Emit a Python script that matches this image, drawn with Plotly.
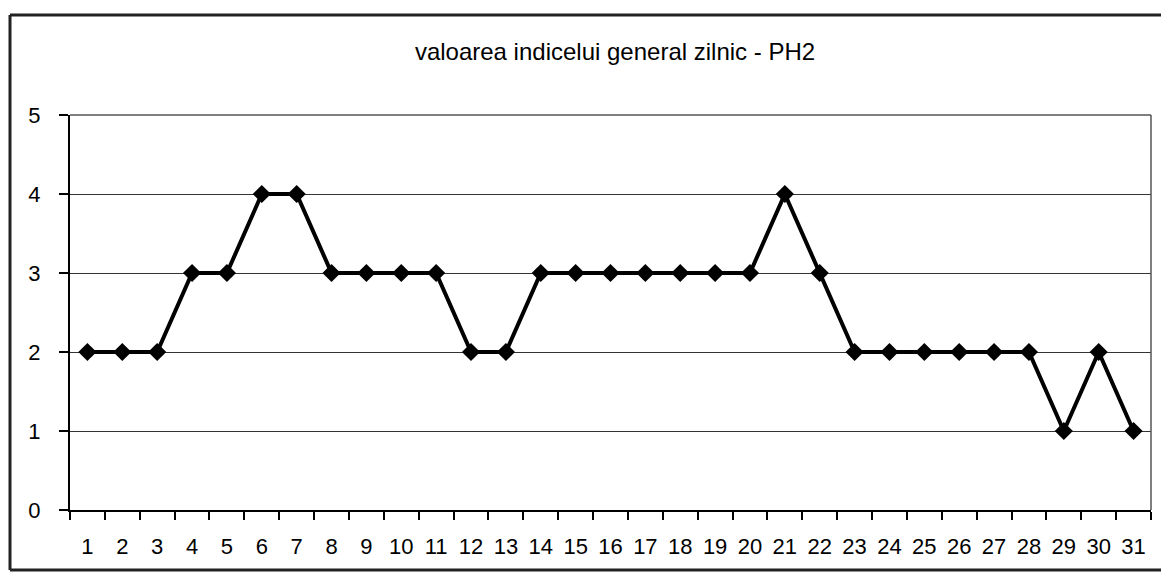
import plotly.graph_objects as go

days = [str(d) for d in range(1, 32)]
values = [2, 2, 2, 3, 3, 4, 4, 3, 3, 3, 3, 2, 2, 3, 3, 3, 3, 3, 3, 3, 4, 3, 2, 2, 2, 2, 2, 2, 1, 2, 1]
title_text = "valoarea indicelui general zilnic - PH2"

# page body has an 8px margin; work in screen pixels and convert
OFF = 8
W, H = 1169 - OFF, 576 - OFF
L, R, T, B = 70, 1151, 115, 510  # plot area in screen pixels
pw, ph = R - L, B - T

fig = go.Figure()
fig.add_trace(go.Scatter(
    x=days, y=values, mode="lines+markers",
    line=dict(color="black", width=4),
    marker=dict(symbol="diamond", size=14, color="black"),
    showlegend=False,
))

def px_x(p):
    return (p - L) / pw

def px_y(p):
    return (B - p) / ph

border = dict(color="#222", width=3)
shapes = [
    # outer chart border: left, top, bottom (right edge lies outside the picture)
    dict(type="line", xref="paper", yref="paper",
         x0=px_x(10), x1=px_x(10), y0=px_y(570), y1=px_y(15), line=border),
    dict(type="line", xref="paper", yref="paper",
         x0=px_x(10), x1=px_x(1200), y0=px_y(15), y1=px_y(15), line=border),
    dict(type="line", xref="paper", yref="paper",
         x0=px_x(10), x1=px_x(1200), y0=px_y(570), y1=px_y(570), line=border),
    # plot area frame (top/right)
    dict(type="line", xref="paper", yref="paper", x0=0, x1=1, y0=1, y1=1,
         line=dict(color="#555", width=1.5)),
    dict(type="line", xref="paper", yref="paper", x0=1, x1=1, y0=0, y1=1,
         line=dict(color="#555", width=1.5)),
]

fig.update_layout(
    width=W, height=H,
    margin=dict(l=L - OFF, r=(W + OFF) - R, t=T - OFF, b=(H + OFF) - B),
    paper_bgcolor="white", plot_bgcolor="white",
    font=dict(family="Liberation Sans, Arial, sans-serif", size=22, color="black"),
    title=dict(text=title_text, x=(615 - OFF) / W, xanchor="center",
               y=1 - (52 - OFF) / H, yanchor="middle",
               font=dict(size=24)),
    shapes=shapes,
    xaxis=dict(type="category", tickson="boundaries", ticks="outside", ticklen=8,
               tickcolor="black", tickwidth=1.5, showline=True, linecolor="black", linewidth=2,
               showgrid=False, tickfont=dict(size=22), range=[-0.5, 30.5],
               ticklabelstandoff=16, tickangle=0),
    yaxis=dict(range=[0, 5], tickvals=[0, 1, 2, 3, 4, 5], ticks="outside", ticklen=9,
               tickcolor="black", tickwidth=1.5, showline=True, linecolor="black", linewidth=2,
               showgrid=True, gridcolor="#333", gridwidth=1.3, zeroline=False,
               tickfont=dict(size=22), ticklabelstandoff=14),
)

fig.write_html("out.html", config={"displayModeBar": False})
